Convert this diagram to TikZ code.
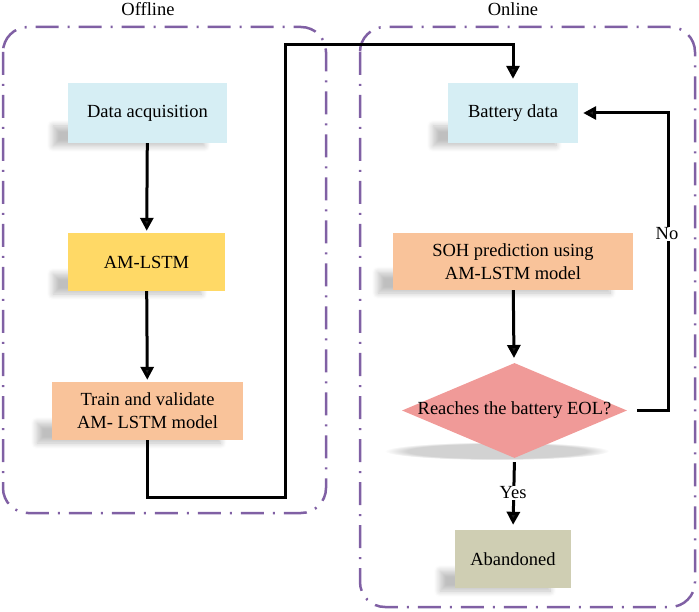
\documentclass[tikz,border=0pt]{standalone}
\usepackage{fontspec}
\setmainfont{Liberation Serif}
\usetikzlibrary{shapes.geometric,arrows.meta,shadows.blur,fadings,calc}
\definecolor{cblue}{HTML}{D6EEF4}
\definecolor{cyellow}{HTML}{FFD966}
\definecolor{corange}{HTML}{F9C39A}
\definecolor{cpink}{HTML}{F09A98}
\definecolor{ckhaki}{HTML}{CFCEB3}
\definecolor{cpurple}{HTML}{8060A4}
\begin{document}
\begin{tikzpicture}[x=1pt,y=-1pt,
  every node/.style={font=\fontsize{18.5}{23}\selectfont},
  box/.style={rectangle, inner sep=0pt, align=center},
  shstrip/.style={blur shadow={shadow xshift=-15pt, shadow yshift=-3pt, shadow opacity=25, shadow blur radius=6pt, shadow blur steps=8}},
  conn/.style={line width=3pt, -{Triangle[width=13pt,length=13pt]}},
  group/.style={draw=cpurple, line width=2.5pt, rounded corners=25pt,
    dash pattern=on 23pt off 9pt on 2pt off 9pt},
  lbl/.style={fill=white, inner sep=1pt}]
\useasboundingbox (0,0) rectangle (699,612);

% group frames
\draw[group] (3,27) rectangle (326,513);
\draw[group] (360,27) rectangle (695,607);
\node (offl) at (148,9) {Offline};
\node (onl) at (513,9) {Online};

% node positions (for shadows)
\path (147.5,113) coordinate (pda) (146.5,262) coordinate (pam) (147.5,411) coordinate (ptv)
      (513,113) coordinate (pbd) (513,261.5) coordinate (psoh) (513,559) coordinate (pab);

% shadows (strips along the lower edge, shifted left/down)
\path[shstrip] ($(pda)+(-79.5,10)$) rectangle ($(pda)+(72,30)$);
\path[shstrip] ($(pam)+(-78.5,9)$) rectangle ($(pam)+(70,29)$);
\path[shstrip] ($(ptv)+(-95.5,9)$) rectangle ($(ptv)+(88,29)$);
\path[shstrip] ($(pbd)+(-65,10)$) rectangle ($(pbd)+(58,30)$);
\path[shstrip] ($(psoh)+(-120,8)$) rectangle ($(psoh)+(112,28.5)$);
\path[shstrip] ($(pab)+(-58,9)$) rectangle ($(pab)+(52,29)$);
\fill[gray!35, path fading=circle with fuzzy edge 20 percent] (497,451) ellipse (112pt and 9pt);

% offline nodes
\node[box, fill=cblue, minimum width=159pt, minimum height=60pt] (da) at (pda) {Data acquisition};
\node[box, fill=cyellow, minimum width=157pt, minimum height=58pt] (am) at (pam) {AM-LSTM};
\node[box, fill=corange, minimum width=191pt, minimum height=58pt] (tv) at (ptv) {Train and validate\\AM- LSTM model};

% online nodes
\node[box, fill=cblue, minimum width=130pt, minimum height=60pt] (bd) at (pbd) {Battery data};
\node[box, fill=corange, minimum width=240pt, minimum height=57pt] (soh) at (psoh) {SOH prediction using\\AM-LSTM model};
\node[diamond, fill=cpink, minimum width=225pt, minimum height=95pt, inner sep=0pt] (dia) at (514.5,410.5) {};
\node (diatext) at (dia) {Reaches the battery EOL?};
\node[box, fill=ckhaki, minimum width=116pt, minimum height=58pt] (ab) at (pab) {Abandoned};

% connectors
\coordinate (c2) at (285,497);
\coordinate (c4) at (513,45);
\coordinate (fb) at (668,113);
\draw[conn, shorten >=2pt] (da) -- (am);
\draw[conn, shorten >=2pt] (am) -- (tv);
\draw[conn, shorten >=4pt] (tv.south) |- (c2) |- (c4) -- (bd.north);
\draw[conn, shorten >=5pt] (soh) -- (dia);
\draw[conn, shorten <=10pt, shorten >=5pt] (dia.east) -| (fb) -- (bd.east);
\node[lbl] (no) at (667,234) {No};
\draw[conn, shorten <=4pt, shorten >=5pt] (dia.south) -- (ab.north);
\node[lbl] (yes) at (513,493) {Yes};
\end{tikzpicture}
\end{document}
